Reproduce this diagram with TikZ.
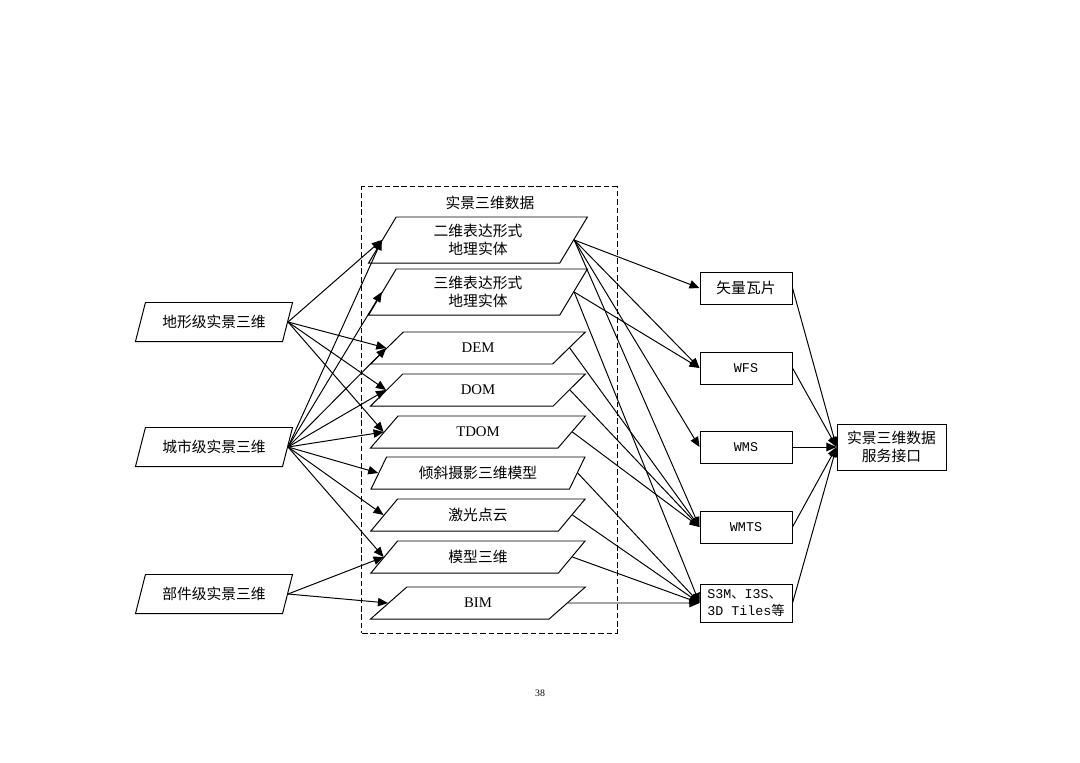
\documentclass[tikz,border=0pt]{standalone}
\usepackage{fontspec}
\setmainfont{Liberation Serif}
\setmonofont{Liberation Mono}
\newfontfamily\cjk{Noto Sans CJK SC}
\usetikzlibrary{positioning, arrows.meta, shapes.geometric}

\begin{document}
\begin{tikzpicture}[
        x=0.025cm, y=-0.025cm,
        para/.style={trapezium, trapezium left angle=58, trapezium right angle=122,
            trapezium stretches=true, draw, line width=0.7pt, inner sep=1pt,
            minimum width=5.375cm, minimum height=0.8cm, align=center,
            font=\cjk\fontsize{10.5}{13}\selectfont},
        tallpara/.style={para, trapezium left angle=66, trapezium right angle=114,
            minimum width=5.475cm, minimum height=1.15cm},
        srcpara/.style={para, trapezium left angle=65, trapezium right angle=115,
            minimum width=3.95cm, minimum height=0.975cm},
        svcbox/.style={rectangle, draw, line width=0.7pt, inner sep=1pt,
            minimum width=2.3cm, minimum height=0.8cm,
            font=\cjk\fontsize{10.5}{13}\selectfont},
        codebox/.style={svcbox, font=\ttfamily\fontsize{9.5}{11.5}\selectfont},
        arr/.style={line width=0.7pt, -{Triangle[length=2.5mm, width=2.1mm]}}
    ]
    \fill[white] (0,0) rectangle (1080,763);
    \useasboundingbox (0,0) rectangle (1080,763);

    % dashed frame of the data group
    \node (Frame) [draw, line width=0.7pt, dash pattern=on 4pt off 2pt,
        minimum width=6.375cm, minimum height=11.15cm] at (489.5,410) {};
    \node (FrameTitle) [font=\cjk\fontsize{10.5}{13}\selectfont] at (490,203) {实景三维数据};

    % sources
    \node (Terrain) [srcpara] at (214,322) {地形级实景三维};
    \node (City) [srcpara] at (214,447) {城市级实景三维};
    \node (Part) [srcpara] at (214,594) {部件级实景三维};

    % data
    \node (Ent2D) [tallpara] at (478,240) {二维表达形式\\地理实体};
    \node (Ent3D) [tallpara] at (478,292) {三维表达形式\\地理实体};
    \node (Dem) [para] at (478,348) {\rmfamily DEM};
    \node (Dom) [para] at (478,390) {\rmfamily DOM};
    \node (Tdom) [para] at (478,432) {\rmfamily TDOM};
    \node (Oblique) [para] at (478,473) {倾斜摄影三维模型};
    \node (Lidar) [para] at (478,515) {激光点云};
    \node (Model) [para] at (478,557) {模型三维};
    \node (Bim) [para] at (478,603) {\rmfamily BIM};

    % services
    \node (Tile) [svcbox] at (746,288) {矢量瓦片};
    \node (Wfs) [codebox] at (746,368) {WFS};
    \node (Wms) [codebox] at (746,447) {WMS};
    \node (Wmts) [codebox] at (746,527) {WMTS};
    \node (Fmt3D) [codebox, minimum height=0.95cm, align=left] at (746,603)
        {S3M{\cjk 、}I3S{\cjk 、}\\3D Tiles{\cjk 等}};
    \node (Api) [svcbox, minimum width=2.725cm, minimum height=1.15cm, align=center] at (891.5,447)
        {实景三维数据\\服务接口};

    \node (PageNo) [font=\fontsize{7}{8}\selectfont] at (540,693) {38};

    % sources to data
    \draw[arr] (Terrain.east) -- (Ent2D.west);
    \draw[arr] (Terrain.east) -- (Dem.west);
    \draw[arr] (Terrain.east) -- (Dom.west);
    \draw[arr] (Terrain.east) -- (Tdom.west);
    \draw[arr] (City.east) -- (Ent2D.west);
    \draw[arr] (City.east) -- (Ent3D.west);
    \draw[arr] (City.east) -- (Dem.west);
    \draw[arr] (City.east) -- (Dom.west);
    \draw[arr] (City.east) -- (Tdom.west);
    \draw[arr] (City.east) -- (Oblique.west);
    \draw[arr] (City.east) -- (Lidar.west);
    \draw[arr] (City.east) -- (Model.west);
    \draw[arr] (Part.east) -- (Model.west);
    \draw[arr] (Part.east) -- (Bim.west);

    % data to services
    \draw[arr] (Ent2D.east) -- (Tile.west);
    \draw[arr] (Ent2D.east) -- (Wfs.west);
    \draw[arr] (Ent2D.east) -- (Wms.west);
    \draw[arr] (Ent2D.east) -- (Wmts.west);
    \draw[arr] (Ent3D.east) -- (Wfs.west);
    \draw[arr] (Ent3D.east) -- (Fmt3D.west);
    \draw[arr] (Dem.east) -- (Wmts.west);
    \draw[arr] (Dom.east) -- (Wmts.west);
    \draw[arr] (Tdom.east) -- (Wmts.west);
    \draw[arr] (Oblique.east) -- (Fmt3D.west);
    \draw[arr] (Lidar.east) -- (Fmt3D.west);
    \draw[arr] (Model.east) -- (Fmt3D.west);
    \draw[arr] (Bim.east) -- (Fmt3D.west);

    % services to interface
    \draw[arr] (Tile.east) -- (Api.west);
    \draw[arr] (Wfs.east) -- (Api.west);
    \draw[arr] (Wms.east) -- (Api.west);
    \draw[arr] (Wmts.east) -- (Api.west);
    \draw[arr] (Fmt3D.east) -- (Api.west);
\end{tikzpicture}
\end{document}
